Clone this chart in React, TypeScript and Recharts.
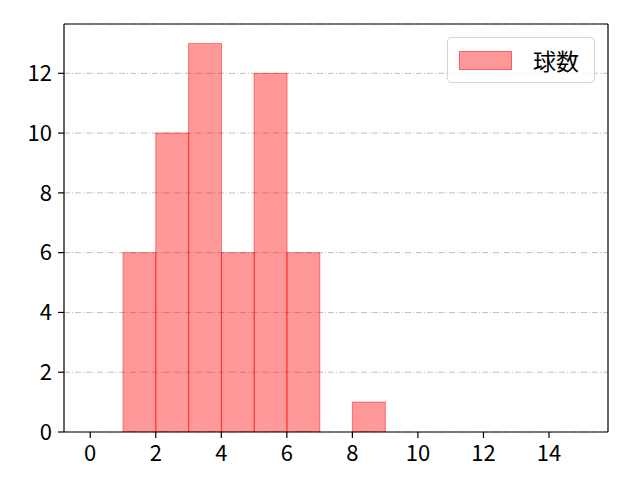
import React from 'react';
import { ComposedChart, Bar, XAxis, YAxis, CartesianGrid, Legend, ReferenceLine } from 'recharts';

const binCenters = [1.5, 2.5, 3.5, 4.5, 5.5, 6.5, 7.5, 8.5];
const counts = [6, 10, 13, 6, 12, 6, 0, 1];
const xTicks = [0, 2, 4, 6, 8, 10, 12, 14];
const yTicks = [0, 2, 4, 6, 8, 10, 12];
const xDomain = [-0.8, 15.8];
const yDomain = [0, 13.65];
const seriesName = '球数';

const data = binCenters.map((x, i) => ({ x, v: counts[i] }));

const FONT = '"Noto Sans CJK JP", "Noto Sans", sans-serif';

const LegendBox = () => (
  <div
    style={{
      position: 'absolute',
      left: 447,
      top: 37,
      width: 148,
      height: 46,
      boxSizing: 'border-box',
      border: '1px solid #d6d6d6',
      borderRadius: 4,
      background: 'rgba(255,255,255,0.8)',
      display: 'flex',
      alignItems: 'center',
      fontFamily: FONT,
    }}
  >
    <div
      style={{
        marginLeft: 11,
        width: 53,
        height: 19,
        boxSizing: 'border-box',
        background: 'rgba(255,0,0,0.4)',
        border: '1px solid rgba(255,0,0,0.4)',
      }}
    />
    <span style={{ marginLeft: 21, fontSize: 23, lineHeight: 1, color: '#000' }}>{seriesName}</span>
  </div>
);

export default function App() {
  return (
    <div style={{ position: 'absolute', left: 0, top: 0, width: 640, height: 480, background: '#fff' }}>
      <ComposedChart
        width={640}
        height={480}
        data={data}
        margin={{ top: 24, right: 32, left: 0, bottom: 0 }}
        barCategoryGap={0}
        barGap={0}
        style={{ fontFamily: FONT }}
      >
        <CartesianGrid
          vertical={false}
          stroke="#b0b0b0"
          strokeDasharray="6 2 1 2"
          strokeWidth={0.8}
        />
        <XAxis
          dataKey="x"
          type="number"
          domain={xDomain}
          ticks={xTicks}
          allowDataOverflow
          height={48}
          tickSize={6}
          tickMargin={7}
          tick={{ fill: '#000', fontSize: 22, fontFamily: FONT }}
          axisLine={{ stroke: '#000', strokeWidth: 1.2 }}
          tickLine={{ stroke: '#000', strokeWidth: 1.2 }}
          interval={0}
        />
        <YAxis
          type="number"
          domain={yDomain}
          ticks={yTicks}
          allowDataOverflow
          width={64}
          tickSize={6}
          tickMargin={6}
          tick={{ fill: '#000', fontSize: 22, fontFamily: FONT }}
          axisLine={{ stroke: '#000', strokeWidth: 1.2 }}
          tickLine={{ stroke: '#000', strokeWidth: 1.2 }}
          interval={0}
        />
        <Bar
          dataKey="v"
          name={seriesName}
          fill="#ff0000"
          fillOpacity={0.4}
          stroke="#ff0000"
          strokeOpacity={0.45}
          strokeWidth={1}
          isAnimationActive={false}
        />
        <ReferenceLine y={yDomain[1]} stroke="#000" strokeWidth={1.2} ifOverflow="extendDomain" />
        <ReferenceLine x={xDomain[1]} stroke="#000" strokeWidth={1.2} ifOverflow="extendDomain" />
        <Legend content={() => <LegendBox />} wrapperStyle={{ position: 'absolute', left: 0, top: 0, width: 0, height: 0 }} />
      </ComposedChart>
    </div>
  );
}
